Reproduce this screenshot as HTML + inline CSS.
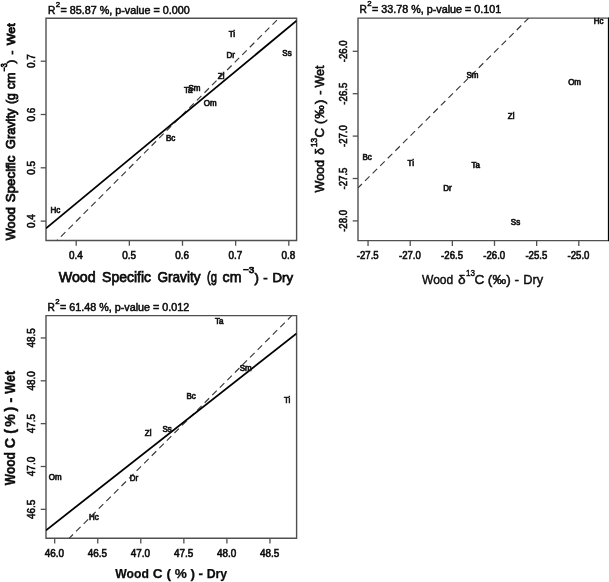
<!DOCTYPE html>
<html><head><meta charset="utf-8"><title>Figure</title>
<style>
html,body{margin:0;padding:0;background:#fff;}
body{width:609px;height:582px;overflow:hidden;}
svg{display:block;font-family:"Liberation Sans", sans-serif;will-change:transform;filter:blur(0.5px);}
svg text{font-family:"Liberation Sans", sans-serif;}
.ax{stroke:#0c0c0c;stroke-width:0.75px;}
.ax2{stroke:#0c0c0c;stroke-width:0.45px;}
.ay2{stroke:#0c0c0c;stroke-width:0.6px;}
.ay{stroke:#0c0c0c;stroke-width:0.85px;}
.axb{stroke:#0c0c0c;stroke-width:0.25px;}
.ayb{stroke:#0c0c0c;stroke-width:0.4px;}
.tk{stroke:#0c0c0c;stroke-width:0.6px;}
.tt{stroke:#0c0c0c;stroke-width:0.5px;}
.dl{stroke:#1a1a1a;stroke-width:0.75px;}
</style></head>
<body>
<svg width="609" height="582" viewBox="0 0 609 582">
<rect x="0" y="0" width="609" height="582" fill="#ffffff"/>
<path d="M46.0 240.5V18.2H296.6V240.5Z" fill="none" stroke="#505050" stroke-width="1.4"/>
<clipPath id="c46_18"><rect x="46.0" y="18.2" width="250.60000000000002" height="222.3"/></clipPath>
<line x1="76.20" y1="240.5" x2="76.20" y2="245.8" stroke="#505050" stroke-width="1.3"/>
<text x="69.00" y="259.10" font-size="10.6" textLength="13.8" lengthAdjust="spacingAndGlyphs" fill="#0c0c0c" class="tk">0.4</text>
<line x1="129.35" y1="240.5" x2="129.35" y2="245.8" stroke="#505050" stroke-width="1.3"/>
<text x="122.15" y="259.10" font-size="10.6" textLength="13.8" lengthAdjust="spacingAndGlyphs" fill="#0c0c0c" class="tk">0.5</text>
<line x1="182.50" y1="240.5" x2="182.50" y2="245.8" stroke="#505050" stroke-width="1.3"/>
<text x="175.30" y="259.10" font-size="10.6" textLength="13.8" lengthAdjust="spacingAndGlyphs" fill="#0c0c0c" class="tk">0.6</text>
<line x1="235.65" y1="240.5" x2="235.65" y2="245.8" stroke="#505050" stroke-width="1.3"/>
<text x="228.45" y="259.10" font-size="10.6" textLength="13.8" lengthAdjust="spacingAndGlyphs" fill="#0c0c0c" class="tk">0.7</text>
<line x1="288.80" y1="240.5" x2="288.80" y2="245.8" stroke="#505050" stroke-width="1.3"/>
<text x="281.60" y="259.10" font-size="10.6" textLength="13.8" lengthAdjust="spacingAndGlyphs" fill="#0c0c0c" class="tk">0.8</text>
<line x1="46.0" y1="221.10" x2="40.7" y2="221.10" stroke="#505050" stroke-width="1.3"/>
<text transform="translate(35.40,228.00) rotate(-90)" font-size="10.6" textLength="13.8" lengthAdjust="spacingAndGlyphs" fill="#0c0c0c" class="tk">0.4</text>
<line x1="46.0" y1="167.80" x2="40.7" y2="167.80" stroke="#505050" stroke-width="1.3"/>
<text transform="translate(35.40,174.70) rotate(-90)" font-size="10.6" textLength="13.8" lengthAdjust="spacingAndGlyphs" fill="#0c0c0c" class="tk">0.5</text>
<line x1="46.0" y1="114.50" x2="40.7" y2="114.50" stroke="#505050" stroke-width="1.3"/>
<text transform="translate(35.40,121.40) rotate(-90)" font-size="10.6" textLength="13.8" lengthAdjust="spacingAndGlyphs" fill="#0c0c0c" class="tk">0.6</text>
<line x1="46.0" y1="61.20" x2="40.7" y2="61.20" stroke="#505050" stroke-width="1.3"/>
<text transform="translate(35.40,68.10) rotate(-90)" font-size="10.6" textLength="13.8" lengthAdjust="spacingAndGlyphs" fill="#0c0c0c" class="tk">0.7</text>
<line x1="57.1" y1="240.5" x2="278.8" y2="18.2" stroke="#383838" stroke-width="1.15" stroke-dasharray="6.35 4.35" stroke-dashoffset="5.3" clip-path="url(#c46_18)"/>
<line x1="46" y1="228.3" x2="296.6" y2="20.7" stroke="#000" stroke-width="1.8" clip-path="url(#c46_18)"/>
<text transform="translate(55.30,212.60) scale(0.93,1)" font-size="8.6" text-anchor="middle" fill="#1a1a1a" class="dl">Hc</text>
<text transform="translate(170.70,141.10) scale(0.93,1)" font-size="8.6" text-anchor="middle" fill="#1a1a1a" class="dl">Bc</text>
<text transform="translate(210.30,105.90) scale(0.93,1)" font-size="8.6" text-anchor="middle" fill="#1a1a1a" class="dl">Om</text>
<text transform="translate(194.50,91.00) scale(0.93,1)" font-size="8.6" text-anchor="middle" fill="#1a1a1a" class="dl">Sm</text>
<text transform="translate(188.10,93.10) scale(0.93,1)" font-size="8.6" text-anchor="middle" fill="#1a1a1a" class="dl">Ta</text>
<text transform="translate(221.20,79.20) scale(0.93,1)" font-size="8.6" text-anchor="middle" fill="#1a1a1a" class="dl">Zl</text>
<text transform="translate(230.80,57.70) scale(0.93,1)" font-size="8.6" text-anchor="middle" fill="#1a1a1a" class="dl">Dr</text>
<text transform="translate(231.90,37.00) scale(0.93,1)" font-size="8.6" text-anchor="middle" fill="#1a1a1a" class="dl">Ti</text>
<text transform="translate(287.00,55.80) scale(0.93,1)" font-size="8.6" text-anchor="middle" fill="#1a1a1a" class="dl">Ss</text>
<text x="51.60" y="13.60" font-size="10.2" text-anchor="middle" fill="#0c0c0c" class="tt">R</text>
<text x="58.05" y="6.50" font-size="7.9" text-anchor="middle" fill="#0c0c0c" class="tt">2</text>
<text x="60.50" y="13.60" font-size="10.2" textLength="129.20" lengthAdjust="spacingAndGlyphs" fill="#0c0c0c" class="tt">= 85.87 %, p-value = 0.000</text>
<text x="58.70" y="281.80" font-size="15" textLength="37.00" lengthAdjust="spacingAndGlyphs" fill="#0c0c0c" class="ax">Wood</text>
<text x="102.10" y="281.80" font-size="15" textLength="48.90" lengthAdjust="spacingAndGlyphs" fill="#0c0c0c" class="ax">Specific</text>
<text x="157.40" y="281.80" font-size="15" textLength="43.10" lengthAdjust="spacingAndGlyphs" fill="#0c0c0c" class="ax">Gravity</text>
<text x="207.10" y="281.80" font-size="15" textLength="9.90" lengthAdjust="spacingAndGlyphs" fill="#0c0c0c" class="ax">(g</text>
<text x="222.60" y="281.80" font-size="15" textLength="18.90" lengthAdjust="spacingAndGlyphs" fill="#0c0c0c" class="ax">cm</text>
<text x="243.10" y="272.50" font-size="9.5" textLength="11.30" lengthAdjust="spacingAndGlyphs" fill="#0c0c0c" class="ax">−3</text>
<text x="256.70" y="281.80" font-size="13.2" text-anchor="middle" fill="#0c0c0c" class="ax">)</text>
<text x="265.45" y="281.80" font-size="13.2" text-anchor="middle" fill="#0c0c0c" class="ax">-</text>
<text x="272.60" y="281.80" font-size="13.2" textLength="20.50" lengthAdjust="spacingAndGlyphs" fill="#0c0c0c" class="ax">Dry</text>
<text transform="translate(14.70,240.20) rotate(-90)" font-size="13.6" textLength="33.10" lengthAdjust="spacingAndGlyphs" fill="#0c0c0c" class="ay">Wood</text>
<text transform="translate(14.70,202.20) rotate(-90)" font-size="13.6" textLength="46.60" lengthAdjust="spacingAndGlyphs" fill="#0c0c0c" class="ay">Specific</text>
<text transform="translate(14.70,149.00) rotate(-90)" font-size="13.6" textLength="40.30" lengthAdjust="spacingAndGlyphs" fill="#0c0c0c" class="ay">Gravity</text>
<text transform="translate(14.70,104.10) rotate(-90)" font-size="13.6" textLength="10.90" lengthAdjust="spacingAndGlyphs" fill="#0c0c0c" class="ay">(g</text>
<text transform="translate(14.70,89.20) rotate(-90)" font-size="13.6" textLength="16.80" lengthAdjust="spacingAndGlyphs" fill="#0c0c0c" class="ay">cm</text>
<text transform="translate(7.10,71.30) rotate(-90)" font-size="8.2" textLength="8.10" lengthAdjust="spacingAndGlyphs" fill="#0c0c0c" class="ay">−3</text>
<text transform="translate(15.20,61.50) rotate(-90)" font-size="11.5" text-anchor="middle" fill="#0c0c0c" class="ay">)</text>
<text transform="translate(15.20,52.50) rotate(-90)" font-size="11.5" text-anchor="middle" fill="#0c0c0c" class="ay">-</text>
<text transform="translate(15.20,45.30) rotate(-90)" font-size="11" textLength="21.90" lengthAdjust="spacingAndGlyphs" fill="#0c0c0c" class="ay">Wet</text>
<path d="M358.0 240.6V18.1H608.5V240.6Z" fill="none" stroke="#505050" stroke-width="1.4"/>
<clipPath id="c358_18"><rect x="358.0" y="18.1" width="250.5" height="222.5"/></clipPath>
<line x1="368.05" y1="240.6" x2="368.05" y2="245.9" stroke="#505050" stroke-width="1.3"/>
<text x="356.80" y="259.20" font-size="10.6" textLength="21.9" lengthAdjust="spacingAndGlyphs" fill="#0c0c0c" class="tk">-27.5</text>
<line x1="410.20" y1="240.6" x2="410.20" y2="245.9" stroke="#505050" stroke-width="1.3"/>
<text x="398.95" y="259.20" font-size="10.6" textLength="21.9" lengthAdjust="spacingAndGlyphs" fill="#0c0c0c" class="tk">-27.0</text>
<line x1="452.35" y1="240.6" x2="452.35" y2="245.9" stroke="#505050" stroke-width="1.3"/>
<text x="441.10" y="259.20" font-size="10.6" textLength="21.9" lengthAdjust="spacingAndGlyphs" fill="#0c0c0c" class="tk">-26.5</text>
<line x1="494.50" y1="240.6" x2="494.50" y2="245.9" stroke="#505050" stroke-width="1.3"/>
<text x="483.25" y="259.20" font-size="10.6" textLength="21.9" lengthAdjust="spacingAndGlyphs" fill="#0c0c0c" class="tk">-26.0</text>
<line x1="536.65" y1="240.6" x2="536.65" y2="245.9" stroke="#505050" stroke-width="1.3"/>
<text x="525.40" y="259.20" font-size="10.6" textLength="21.9" lengthAdjust="spacingAndGlyphs" fill="#0c0c0c" class="tk">-25.5</text>
<line x1="578.80" y1="240.6" x2="578.80" y2="245.9" stroke="#505050" stroke-width="1.3"/>
<text x="567.55" y="259.20" font-size="10.6" textLength="21.9" lengthAdjust="spacingAndGlyphs" fill="#0c0c0c" class="tk">-25.0</text>
<line x1="358.0" y1="220.90" x2="352.7" y2="220.90" stroke="#505050" stroke-width="1.3"/>
<text transform="translate(347.40,231.85) rotate(-90)" font-size="10.6" textLength="21.9" lengthAdjust="spacingAndGlyphs" fill="#0c0c0c" class="tk">-28.0</text>
<line x1="358.0" y1="178.50" x2="352.7" y2="178.50" stroke="#505050" stroke-width="1.3"/>
<text transform="translate(347.40,189.45) rotate(-90)" font-size="10.6" textLength="21.9" lengthAdjust="spacingAndGlyphs" fill="#0c0c0c" class="tk">-27.5</text>
<line x1="358.0" y1="136.10" x2="352.7" y2="136.10" stroke="#505050" stroke-width="1.3"/>
<text transform="translate(347.40,147.05) rotate(-90)" font-size="10.6" textLength="21.9" lengthAdjust="spacingAndGlyphs" fill="#0c0c0c" class="tk">-27.0</text>
<line x1="358.0" y1="93.70" x2="352.7" y2="93.70" stroke="#505050" stroke-width="1.3"/>
<text transform="translate(347.40,104.65) rotate(-90)" font-size="10.6" textLength="21.9" lengthAdjust="spacingAndGlyphs" fill="#0c0c0c" class="tk">-26.5</text>
<line x1="358.0" y1="51.30" x2="352.7" y2="51.30" stroke="#505050" stroke-width="1.3"/>
<text transform="translate(347.40,62.25) rotate(-90)" font-size="10.6" textLength="21.9" lengthAdjust="spacingAndGlyphs" fill="#0c0c0c" class="tk">-26.0</text>
<line x1="358" y1="187.9" x2="528.7" y2="18.1" stroke="#383838" stroke-width="1.15" stroke-dasharray="6.35 4.35" stroke-dashoffset="0.8" clip-path="url(#c358_18)"/>
<rect x="608" y="17.6" width="1" height="223.5" fill="#000"/>
<text transform="translate(598.60,23.90) scale(0.93,1)" font-size="8.6" text-anchor="middle" fill="#1a1a1a" class="dl">Hc</text>
<text transform="translate(574.60,84.50) scale(0.93,1)" font-size="8.6" text-anchor="middle" fill="#1a1a1a" class="dl">Om</text>
<text transform="translate(472.40,78.20) scale(0.93,1)" font-size="8.6" text-anchor="middle" fill="#1a1a1a" class="dl">Sm</text>
<text transform="translate(511.20,118.90) scale(0.93,1)" font-size="8.6" text-anchor="middle" fill="#1a1a1a" class="dl">Zl</text>
<text transform="translate(367.10,160.30) scale(0.93,1)" font-size="8.6" text-anchor="middle" fill="#1a1a1a" class="dl">Bc</text>
<text transform="translate(410.80,166.30) scale(0.93,1)" font-size="8.6" text-anchor="middle" fill="#1a1a1a" class="dl">Ti</text>
<text transform="translate(475.70,168.40) scale(0.93,1)" font-size="8.6" text-anchor="middle" fill="#1a1a1a" class="dl">Ta</text>
<text transform="translate(447.40,191.40) scale(0.93,1)" font-size="8.6" text-anchor="middle" fill="#1a1a1a" class="dl">Dr</text>
<text transform="translate(515.50,225.40) scale(0.93,1)" font-size="8.6" text-anchor="middle" fill="#1a1a1a" class="dl">Ss</text>
<text x="363.10" y="13.30" font-size="10.2" text-anchor="middle" fill="#0c0c0c" class="tt">R</text>
<text x="369.55" y="6.20" font-size="7.9" text-anchor="middle" fill="#0c0c0c" class="tt">2</text>
<text x="372.00" y="13.30" font-size="10.2" textLength="129.20" lengthAdjust="spacingAndGlyphs" fill="#0c0c0c" class="tt">= 33.78 %, p-value = 0.101</text>
<text x="422.00" y="283.70" font-size="13.7" textLength="31.20" lengthAdjust="spacingAndGlyphs" fill="#0c0c0c" class="ax2">Wood</text>
<text x="461.75" y="283.70" font-size="13.7" text-anchor="middle" fill="#0c0c0c" class="ax2">δ</text>
<text x="465.90" y="276.10" font-size="9.8" textLength="9.00" lengthAdjust="spacingAndGlyphs" fill="#0c0c0c" class="ax2">13</text>
<text x="479.45" y="283.70" font-size="13.7" text-anchor="middle" fill="#0c0c0c" class="ax2">C</text>
<text x="489.95" y="283.70" font-size="13.7" text-anchor="middle" fill="#0c0c0c" class="ax2">(</text>
<text x="499.30" y="283.70" font-size="13.7" text-anchor="middle" fill="#0c0c0c" class="ax2">‰</text>
<text x="508.45" y="283.70" font-size="13.7" text-anchor="middle" fill="#0c0c0c" class="ax2">)</text>
<text x="516.85" y="283.70" font-size="13.7" text-anchor="middle" fill="#0c0c0c" class="ax2">-</text>
<text x="523.20" y="283.70" font-size="13.7" textLength="19.90" lengthAdjust="spacingAndGlyphs" fill="#0c0c0c" class="ax2">Dry</text>
<text transform="translate(323.70,192.50) rotate(-90)" font-size="13.2" textLength="32.60" lengthAdjust="spacingAndGlyphs" fill="#0c0c0c" class="ay2">Wood</text>
<text transform="translate(323.70,151.45) rotate(-90)" font-size="12" text-anchor="middle" fill="#0c0c0c" class="ay2">δ</text>
<text transform="translate(316.90,147.10) rotate(-90)" font-size="9.0" textLength="9.20" lengthAdjust="spacingAndGlyphs" fill="#0c0c0c" class="ay2">13</text>
<text transform="translate(323.70,132.85) rotate(-90)" font-size="13.2" text-anchor="middle" fill="#0c0c0c" class="ay2">C</text>
<text transform="translate(323.70,121.80) rotate(-90)" font-size="13.2" text-anchor="middle" fill="#0c0c0c" class="ay2">(</text>
<text transform="translate(323.70,111.85) rotate(-90)" font-size="13.2" text-anchor="middle" fill="#0c0c0c" class="ay2">‰</text>
<text transform="translate(323.70,101.75) rotate(-90)" font-size="13.2" text-anchor="middle" fill="#0c0c0c" class="ay2">)</text>
<text transform="translate(323.70,92.60) rotate(-90)" font-size="13.2" text-anchor="middle" fill="#0c0c0c" class="ay2">-</text>
<text transform="translate(323.70,87.60) rotate(-90)" font-size="13.2" textLength="22.00" lengthAdjust="spacingAndGlyphs" fill="#0c0c0c" class="ay2">Wet</text>
<path d="M46.0 538.2V315.6H296.6V538.2Z" fill="none" stroke="#505050" stroke-width="1.4"/>
<clipPath id="c46_315"><rect x="46.0" y="315.6" width="250.60000000000002" height="222.60000000000002"/></clipPath>
<line x1="54.70" y1="538.2" x2="54.70" y2="543.5" stroke="#505050" stroke-width="1.3"/>
<text x="44.75" y="556.80" font-size="10.6" textLength="19.3" lengthAdjust="spacingAndGlyphs" fill="#0c0c0c" class="tk">46.0</text>
<line x1="97.75" y1="538.2" x2="97.75" y2="543.5" stroke="#505050" stroke-width="1.3"/>
<text x="87.80" y="556.80" font-size="10.6" textLength="19.3" lengthAdjust="spacingAndGlyphs" fill="#0c0c0c" class="tk">46.5</text>
<line x1="140.80" y1="538.2" x2="140.80" y2="543.5" stroke="#505050" stroke-width="1.3"/>
<text x="130.85" y="556.80" font-size="10.6" textLength="19.3" lengthAdjust="spacingAndGlyphs" fill="#0c0c0c" class="tk">47.0</text>
<line x1="183.85" y1="538.2" x2="183.85" y2="543.5" stroke="#505050" stroke-width="1.3"/>
<text x="173.90" y="556.80" font-size="10.6" textLength="19.3" lengthAdjust="spacingAndGlyphs" fill="#0c0c0c" class="tk">47.5</text>
<line x1="226.90" y1="538.2" x2="226.90" y2="543.5" stroke="#505050" stroke-width="1.3"/>
<text x="216.95" y="556.80" font-size="10.6" textLength="19.3" lengthAdjust="spacingAndGlyphs" fill="#0c0c0c" class="tk">48.0</text>
<line x1="269.95" y1="538.2" x2="269.95" y2="543.5" stroke="#505050" stroke-width="1.3"/>
<text x="260.00" y="556.80" font-size="10.6" textLength="19.3" lengthAdjust="spacingAndGlyphs" fill="#0c0c0c" class="tk">48.5</text>
<line x1="46.0" y1="509.35" x2="40.7" y2="509.35" stroke="#505050" stroke-width="1.3"/>
<text transform="translate(35.40,519.00) rotate(-90)" font-size="10.6" textLength="19.3" lengthAdjust="spacingAndGlyphs" fill="#0c0c0c" class="tk">46.5</text>
<line x1="46.0" y1="466.50" x2="40.7" y2="466.50" stroke="#505050" stroke-width="1.3"/>
<text transform="translate(35.40,476.15) rotate(-90)" font-size="10.6" textLength="19.3" lengthAdjust="spacingAndGlyphs" fill="#0c0c0c" class="tk">47.0</text>
<line x1="46.0" y1="423.65" x2="40.7" y2="423.65" stroke="#505050" stroke-width="1.3"/>
<text transform="translate(35.40,433.30) rotate(-90)" font-size="10.6" textLength="19.3" lengthAdjust="spacingAndGlyphs" fill="#0c0c0c" class="tk">47.5</text>
<line x1="46.0" y1="380.80" x2="40.7" y2="380.80" stroke="#505050" stroke-width="1.3"/>
<text transform="translate(35.40,390.45) rotate(-90)" font-size="10.6" textLength="19.3" lengthAdjust="spacingAndGlyphs" fill="#0c0c0c" class="tk">48.0</text>
<line x1="46.0" y1="337.95" x2="40.7" y2="337.95" stroke="#505050" stroke-width="1.3"/>
<text transform="translate(35.40,347.60) rotate(-90)" font-size="10.6" textLength="19.3" lengthAdjust="spacingAndGlyphs" fill="#0c0c0c" class="tk">48.5</text>
<line x1="69.3" y1="538.2" x2="291.8" y2="315.6" stroke="#383838" stroke-width="1.15" stroke-dasharray="6.35 4.35" stroke-dashoffset="1.1" clip-path="url(#c46_315)"/>
<line x1="46" y1="530.3" x2="296.6" y2="333.4" stroke="#000" stroke-width="1.8" clip-path="url(#c46_315)"/>
<text transform="translate(55.30,479.60) scale(0.93,1)" font-size="8.6" text-anchor="middle" fill="#1a1a1a" class="dl">Om</text>
<text transform="translate(93.80,520.30) scale(0.93,1)" font-size="8.6" text-anchor="middle" fill="#1a1a1a" class="dl">Hc</text>
<text transform="translate(134.00,480.50) scale(0.93,1)" font-size="8.6" text-anchor="middle" fill="#1a1a1a" class="dl">Dr</text>
<text transform="translate(148.10,435.80) scale(0.93,1)" font-size="8.6" text-anchor="middle" fill="#1a1a1a" class="dl">Zl</text>
<text transform="translate(167.20,431.90) scale(0.93,1)" font-size="8.6" text-anchor="middle" fill="#1a1a1a" class="dl">Ss</text>
<text transform="translate(191.10,399.00) scale(0.93,1)" font-size="8.6" text-anchor="middle" fill="#1a1a1a" class="dl">Bc</text>
<text transform="translate(245.70,371.20) scale(0.93,1)" font-size="8.6" text-anchor="middle" fill="#1a1a1a" class="dl">Sm</text>
<text transform="translate(219.20,324.40) scale(0.93,1)" font-size="8.6" text-anchor="middle" fill="#1a1a1a" class="dl">Ta</text>
<text transform="translate(287.10,403.00) scale(0.93,1)" font-size="8.6" text-anchor="middle" fill="#1a1a1a" class="dl">Ti</text>
<text x="51.10" y="310.60" font-size="10.2" text-anchor="middle" fill="#0c0c0c" class="tt">R</text>
<text x="57.55" y="303.50" font-size="7.9" text-anchor="middle" fill="#0c0c0c" class="tt">2</text>
<text x="60.00" y="310.60" font-size="10.2" textLength="129.20" lengthAdjust="spacingAndGlyphs" fill="#0c0c0c" class="tt">= 61.48 %, p-value = 0.012</text>
<text x="115.30" y="577.50" font-size="13.6" textLength="33.50" lengthAdjust="spacingAndGlyphs" fill="#0c0c0c" class="axb" font-weight="bold">Wood</text>
<text x="157.60" y="577.50" font-size="13.6" text-anchor="middle" fill="#0c0c0c" class="axb" font-weight="bold">C</text>
<text x="168.80" y="577.50" font-size="13.6" text-anchor="middle" fill="#0c0c0c" class="axb" font-weight="bold">(</text>
<text x="180.85" y="577.50" font-size="13.6" text-anchor="middle" fill="#0c0c0c" class="axb" font-weight="bold">%</text>
<text x="192.85" y="577.50" font-size="13.6" text-anchor="middle" fill="#0c0c0c" class="axb" font-weight="bold">)</text>
<text x="200.85" y="577.50" font-size="13.6" text-anchor="middle" fill="#0c0c0c" class="axb" font-weight="bold">-</text>
<text x="206.70" y="577.50" font-size="13.6" textLength="20.50" lengthAdjust="spacingAndGlyphs" fill="#0c0c0c" class="axb" font-weight="bold">Dry</text>
<text transform="translate(14.50,485.20) rotate(-90)" font-size="14.3" textLength="33.10" lengthAdjust="spacingAndGlyphs" fill="#0c0c0c" class="ayb" font-weight="bold">Wood</text>
<text transform="translate(14.50,443.05) rotate(-90)" font-size="14.3" text-anchor="middle" fill="#0c0c0c" class="ayb" font-weight="bold">C</text>
<text transform="translate(14.50,431.35) rotate(-90)" font-size="14.3" text-anchor="middle" fill="#0c0c0c" class="ayb" font-weight="bold">(</text>
<text transform="translate(14.50,420.35) rotate(-90)" font-size="14.3" text-anchor="middle" fill="#0c0c0c" class="ayb" font-weight="bold">%</text>
<text transform="translate(14.50,409.10) rotate(-90)" font-size="14.3" text-anchor="middle" fill="#0c0c0c" class="ayb" font-weight="bold">)</text>
<text transform="translate(14.50,400.05) rotate(-90)" font-size="14.3" text-anchor="middle" fill="#0c0c0c" class="ayb" font-weight="bold">-</text>
<text transform="translate(14.50,393.70) rotate(-90)" font-size="14.3" textLength="22.80" lengthAdjust="spacingAndGlyphs" fill="#0c0c0c" class="ayb" font-weight="bold">Wet</text>
</svg>
</body></html>
